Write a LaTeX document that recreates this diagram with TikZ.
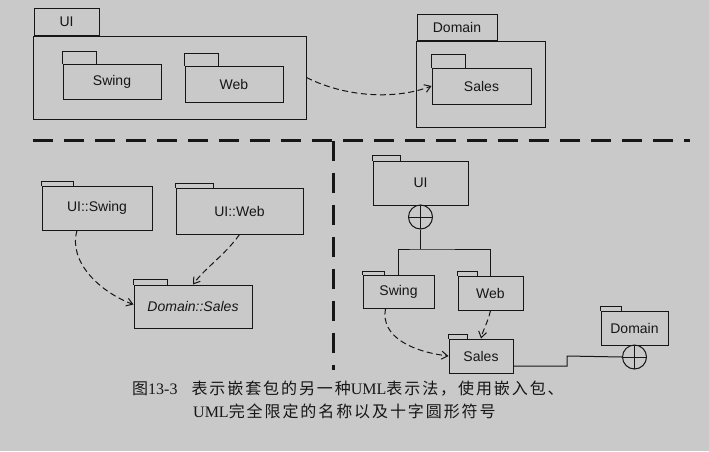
\documentclass[tikz,border=0pt]{standalone}
\usepackage{fontspec}
\setmainfont{Liberation Serif}
\setsansfont{Liberation Sans}
\newfontfamily\cjk[LetterSpace=12]{Noto Sans CJK SC}
\usetikzlibrary{arrows.meta}
\definecolor{bg}{HTML}{C9C9C9}
\definecolor{ink}{HTML}{161616}
\tikzset{
  pkgbody/.style={draw=ink, line width=1pt, inner sep=0pt, font=\sffamily\fontsize{14}{16}\selectfont, text=ink},
  pkgtab/.style={draw=ink, line width=1pt},
  sep/.style={draw=ink, line width=3pt, dash pattern=on 20pt off 11pt},
  dep/.style={draw=ink, line width=1pt, dash pattern=on 6pt off 3.5pt, -{Straight Barb[length=6pt,width=8pt]}},
  link/.style={draw=ink, line width=1pt},
  plus/.style={circle, draw=ink, line width=1pt, minimum size=24pt, inner sep=0pt,
    path picture={\draw[ink, line width=1pt] (path picture bounding box.north) -- (path picture bounding box.south)
      (path picture bounding box.west) -- (path picture bounding box.east);}},
  captext/.style={anchor=west, inner sep=0pt, text=ink, font=\fontsize{16}{18}\selectfont}
}
% name, x1, y1, x2, y2, tabwidth, tabheight, text
\newcommand\pkgbox[8]{%
  \node[pkgbody, minimum width={(#4-#2)*1pt}, minimum height={(#5-#3)*1pt}] (#1) at ({(#2+#4)/2},{(#3+#5)/2}) {#8};
  \draw[pkgtab] (#1.north west) -- ++(0,-#7) -- ++(#6,0) -- ++(0,#7);
}
\begin{document}
\begin{tikzpicture}[x=1pt, y=-1pt]
\fill[bg] (0,0) rectangle (709,451);
\useasboundingbox (0,0) rectangle (709,451);

% ---------- top: nested packages ----------
\node[pkgbody, minimum width=273pt, minimum height=83pt] (ui) at (169.5,77.5) {};
\node[pkgbody, anchor=south west, minimum width=65pt, minimum height=27pt] (uitab) at ([xshift=1pt]ui.north west) {UI};
\pkgbox{swing}{63}{64}{161}{99}{34}{12}{Swing}
\pkgbox{web}{185}{66}{283}{102}{34}{12}{Web}

\node[pkgbody, minimum width=129pt, minimum height=86pt] (domain) at (480.5,84) {};
\node[pkgbody, anchor=south west, minimum width=80pt, minimum height=26pt] (domtab) at ([xshift=1pt]domain.north west) {Domain};
\pkgbox{sales}{432}{68}{531}{104}{34}{13}{Sales}

\draw[dep] (ui.east) .. controls (345,97) and (395,100) .. (sales.west);

% ---------- separators ----------
\coordinate (hl) at (33,140);
\coordinate (hr) at (690,140);
\coordinate (vt) at (333,141);
\coordinate (vb) at (333,370);
\draw[sep] (hl) -- (hr);
\draw[sep, dash pattern=on 20pt off 12pt] (vt) -- (vb);

% ---------- bottom left: qualified names ----------
\pkgbox{uswing}{42}{186}{152}{230}{32}{4}{UI::Swing}
\pkgbox{uweb}{176}{188}{303}{234}{38}{4}{UI::Web}
\pkgbox{dsales}{134}{285}{252}{328}{34}{5}{\itshape Domain::Sales}

\draw[dep] ([xshift=-20pt]uswing.south) .. controls (68,262) and (100,292) .. ([yshift=2pt]dsales.west);
\draw[dep] (uweb.south) .. controls (225,255) and (205,268) .. (dsales.north);

% ---------- bottom right: circle-plus notation ----------
\pkgbox{rui}{373}{161}{468}{205}{28}{5}{UI}
\node[plus] (plus1) at (420.5,217) {};
\pkgbox{rswing}{363}{275}{434}{308}{22}{3}{Swing}
\pkgbox{rweb}{458}{276}{523}{310}{20}{4}{Web}
\pkgbox{rsales}{449}{339}{513}{373}{19}{4}{Sales}
\pkgbox{rdomain}{601}{311}{668}{345}{21}{4}{Domain}
\node[plus] (plus2) at (634.5,357) {};

\coordinate (junction) at (420.5,249);
\coordinate (kink) at (567,356);
\draw[link] (plus1.south) -- (junction);
\draw[link] (rswing.north) |- (junction) -| (rweb.north);
\draw[link] ([yshift=-10pt]rsales.east) -| (kink) -- (plus2.west);

\draw[dep] ([xshift=-13pt]rswing.south) .. controls (380,338) and (415,352) .. (rsales.west);
\draw[dep] (rweb.south) .. controls (488,322) and (483,330) .. (rsales.north);

% ---------- caption ----------
\node[captext] (cap1) at (132,389) {{\cjk 图}13-3\hspace{14pt}{\cjk 表示嵌套包的另一种}UML{\cjk 表示法，使用嵌入包、}};
\node[captext] (cap2) at (193,411) {UML{\cjk 完全限定的名称以及十字圆形符号}};
\end{tikzpicture}
\end{document}
